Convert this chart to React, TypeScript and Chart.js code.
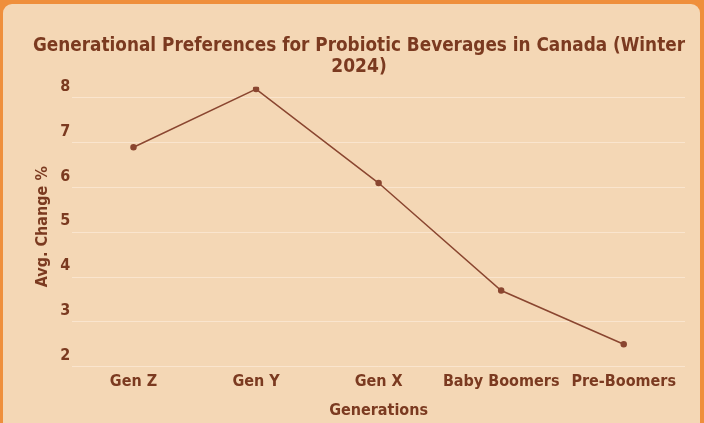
import React, { useEffect, useRef } from "react";
import { Chart, registerables } from "chart.js";

Chart.register(...registerables);

const categories = ["Gen Z", "Gen Y", "Gen X", "Baby Boomers", "Pre-Boomers"];
const avgChange = [6.9, 8.2, 6.1, 3.7, 2.5];
const yTicks = [2, 3, 4, 5, 6, 7, 8];
const titleLines = ["Generational Preferences for Probiotic Beverages in Canada (Winter", "2024)"];
const xTitle = "Generations";
const yTitle = "Avg. Change %";

const FONT = "'DejaVu Sans Condensed', 'Open Sans', sans-serif";
const BROWN = "#7b3a20";
const LINE = "#8a4630";

export default function App() {
  const ref = useRef<HTMLCanvasElement | null>(null);
  useEffect(() => {
    document.body.style.margin = "0";
    document.body.style.background = "#ef8f3c";
    const chart = new Chart(ref.current!, {
      type: "line",
      data: {
        labels: categories,
        datasets: [
          {
            data: avgChange,
            borderColor: LINE,
            backgroundColor: LINE,
            borderWidth: 1.5,
            pointRadius: 2.5,
            pointBackgroundColor: LINE,
            tension: 0,
          },
        ],
      },
      options: {
        animation: false,
        responsive: false,
        maintainAspectRatio: false,
        layout: { padding: { left: 30, right: 15, top: 32, bottom: 3 } },
        plugins: {
          legend: { display: false },
          tooltip: { enabled: false },
          title: {
            display: true,
            text: titleLines,
            color: BROWN,
            font: { family: FONT, size: 19, weight: "bold", lineHeight: 1.1 },
            padding: { top: 0, bottom: 9 },
          },
        },
        scales: {
          x: {
            offset: true,
            grid: { display: false, drawTicks: false },
            border: { display: false },
            ticks: { color: BROWN, font: { family: FONT, size: 16, weight: "bold" }, padding: 6, maxRotation: 0 },
            title: { display: true, text: xTitle, color: BROWN, font: { family: FONT, size: 16, weight: "bold" }, padding: { top: 3, bottom: 0 } },
          },
          y: {
            min: 2,
            max: 8.25,
            border: { display: false },
            grid: { color: "rgba(255,240,225,0.55)", lineWidth: 1, drawTicks: false },
            afterBuildTicks: (axis: any) => {
              axis.ticks = yTicks.map((v) => ({ value: v }));
            },
            ticks: {
              color: BROWN,
              font: { family: FONT, size: 16, weight: "bold" },
              padding: 2,
              labelOffset: -11,
            },
            title: { display: true, text: yTitle, color: BROWN, font: { family: FONT, size: 16, weight: "bold" }, padding: { top: 0, bottom: 6 } },
          },
        },
      },
    });
    return () => chart.destroy();
  }, []);
  return (
    <div
      style={{
        position: "absolute",
        left: 3,
        top: 4,
        width: 697,
        height: 440,
        background: "#f4d7b5",
        borderRadius: 9,
        overflow: "hidden",
      }}
    >
      <canvas ref={ref} width={697} height={419} style={{ display: "block" }} />
    </div>
  );
}
